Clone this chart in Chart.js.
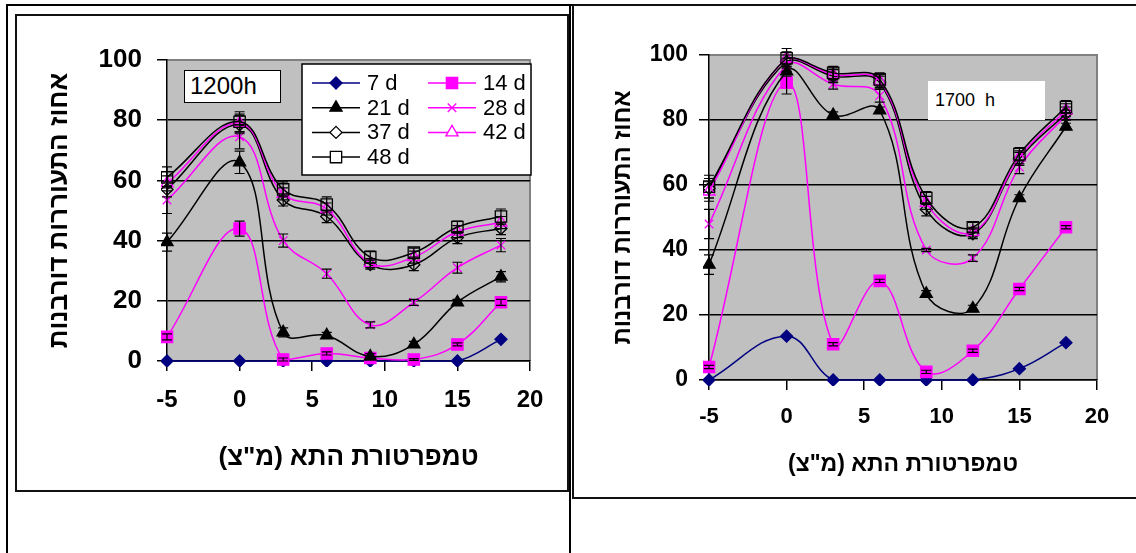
<!DOCTYPE html>
<html>
<head>
<meta charset="utf-8">
<script src="https://cdn.jsdelivr.net/npm/chart.js@4.4.1/dist/chart.umd.min.js"></script>
<style>
    body { margin: 0; width: 1136px; height: 553px; overflow: hidden; background: #fff; position: relative; font-family: Arial, "Liberation Sans", sans-serif; }
    .ln { position: absolute; background: #000; }
    .box { position: absolute; border: 2px solid #111; box-sizing: border-box; }
    canvas { position: absolute; }
    .note { position: absolute; background: #fff; color: #000; box-sizing: border-box; white-space: pre; }
</style>
</head>
<body>
<div class="ln" style="left:6px;top:4px;width:1130px;height:2px"></div>
<div class="ln" style="left:6px;top:4px;width:2px;height:549px"></div>
<div class="ln" style="left:569px;top:4px;width:2px;height:549px"></div>
<div class="box" style="left:15px;top:14px;width:554px;height:478px"></div>
<div class="box" style="left:572px;top:4px;width:600px;height:495px"></div>

<canvas id="chartNoon" width="550" height="474" style="left:17px;top:16px"></canvas>
<canvas id="chartEvening" width="562" height="491" style="left:574px;top:6px"></canvas>

<div class="note" style="left:184px;top:70px;width:97px;height:33px;border:1.5px solid #000;font-size:24px;line-height:30px;padding-left:5px">1200h</div>
<div class="note" style="left:928px;top:81px;width:117px;height:39px;font-size:18px;line-height:39px;padding-left:7px">1700  h</div>

<script>
// temperatures (x) and axis ticks
const temps = [-5, 0, 3, 6, 9, 12, 15, 18];
const xTicks = [-5, 0, 5, 10, 15, 20];
const yTicks = [0, 20, 40, 60, 80, 100];
const seriesNames = ['7 d', '14 d', '21 d', '28 d', '37 d', '42 d', '48 d'];

const xTitle = 'טמפרטורת התא (מ"צ)';
const yTitle = 'אחוז התעוררות דורבנות';

// 1200h
const noon7 = [0, 0, 0, 0, 0, 0, 0, 7.2];
const noon14 = [8, 44, 0.5, 2.5, 1, 0.5, 5.5, 19.5];
const noon21 = [39.5, 66, 9.5, 8.5, 1.5, 5.5, 19.5, 28];
const noon28 = [53.5, 74.5, 40, 29, 12, 19.5, 31, 38.5];
const noon37 = [57, 78.5, 53.5, 48, 32, 32, 41, 44];
const noon42 = [59, 79, 55.5, 50.5, 32.5, 34.5, 43, 46];
const noon48 = [61, 79.5, 57, 52, 34.5, 36, 44.5, 48];

const noonErr7 = [0, 0, 0, 0, 0, 0, 0, 0];
const noonErr14 = [1, 2.5, 0.5, 0.5, 0.3, 0.3, 0.5, 1];
const noonErr21 = [3, 3.7, 1.5, 1, 1, 1, 1, 1.7];
const noonErr28 = [4.5, 4, 2.2, 1.5, 1, 1, 1.8, 2.2];
const noonErr37 = [2.5, 3, 2, 2, 1.5, 2, 2, 2];
const noonErr42 = [2.5, 3, 2, 2, 1.5, 2, 2, 2];
const noonErr48 = [3.5, 3.3, 2.5, 2.5, 2, 1.5, 2, 2.5];

// 1700h
const eve7 = [0, 13.5, 0, 0, 0, 0, 3.5, 11.5];
const eve14 = [4, 91.5, 11, 30.5, 2.5, 9, 28, 47];
const eve21 = [35.5, 95, 81.5, 83, 26.5, 22, 56, 78];
const eve28 = [48, 97, 91, 87.5, 40, 37.5, 65.5, 81.5];
const eve37 = [59, 98, 93.5, 91.5, 52.5, 45, 68, 82];
const eve42 = [58, 99, 94, 92, 54.5, 45.5, 68.5, 83];
const eve48 = [59.5, 99, 94.5, 92.5, 56, 47, 69.5, 84];

const eveErr7 = [0, 0, 0, 0, 0, 0, 0, 0];
const eveErr14 = [0.5, 3.5, 0.5, 0.5, 0.5, 0.5, 0.5, 0.5];
const eveErr21 = [3, 1.5, 1, 1, 1, 1, 1, 1];
const eveErr28 = [4.5, 2, 1.5, 2, 0.5, 1, 2, 1.5];
const eveErr37 = [3, 2, 2, 2, 2, 1.5, 2, 2];
const eveErr42 = [3, 2, 2, 2, 2, 1.5, 2, 2];
const eveErr48 = [3.5, 3, 2, 2, 2, 1.5, 2, 2];

// series looks (excel style)
const lineColors = ['#000080', '#ff00ff', '#000000', '#ff00ff', '#000000', '#ff00ff', '#000000'];
const markerStyles = ['rectRot', 'rect', 'triangle', 'crossRot', 'rectRot', 'triangle', 'rect'];
const markerSizes = [6, 8, 7, 6, 6, 7, 8];
const markerFilled = [true, true, true, false, false, false, false];

const FONT = 'Arial, "Liberation Sans", sans-serif';
const rtl = (s) => '\u200F' + s + '\u200F';

function makeDatasets(values, errors) {
    return seriesNames.map((name, i) => ({
        label: name,
        data: temps.map((t, j) => ({ x: t, y: values[i][j] })),
        errors: errors[i],
        borderColor: lineColors[i],
        backgroundColor: lineColors[i],
        borderWidth: 1.5,
        pointStyle: markerStyles[i],
        pointRadius: markerSizes[i],
        pointHoverRadius: markerSizes[i],
        pointBackgroundColor: markerFilled[i] ? lineColors[i] : 'rgba(0,0,0,0)',
        pointBorderColor: lineColors[i],
        pointBorderWidth: 1.3,
        tension: 0.4,
        clip: 6,
        order: seriesNames.length - i
    }));
}

const plotFrame = {
    id: 'plotFrame',
    beforeDraw(chart) {
        const { ctx, chartArea: a } = chart;
        ctx.save();
        ctx.fillStyle = '#c0c0c0';
        ctx.fillRect(a.left, a.top, a.right - a.left, a.bottom - a.top);
        ctx.strokeStyle = '#808080';
        ctx.lineWidth = 2;
        ctx.beginPath();
        ctx.moveTo(a.left, a.top);
        ctx.lineTo(a.right, a.top);
        ctx.lineTo(a.right, a.bottom);
        ctx.stroke();
        ctx.restore();
    }
};

const errorBars = {
    id: 'errorBars',
    afterDatasetsDraw(chart) {
        const { ctx } = chart;
        const y = chart.scales.y;
        ctx.save();
        ctx.strokeStyle = '#000';
        ctx.lineWidth = 1.2;
        chart.data.datasets.forEach((ds, i) => {
            const meta = chart.getDatasetMeta(i);
            ds.data.forEach((p, j) => {
                const e = ds.errors[j];
                if (!e) return;
                const px = meta.data[j].x;
                const top = y.getPixelForValue(p.y + e);
                const bot = y.getPixelForValue(p.y - e);
                ctx.beginPath();
                ctx.moveTo(px, top); ctx.lineTo(px, bot);
                ctx.moveTo(px - 5, top); ctx.lineTo(px + 5, top);
                ctx.moveTo(px - 5, bot); ctx.lineTo(px + 5, bot);
                ctx.stroke();
            });
        });
        ctx.restore();
    }
};

// two column legend in a white box, like the excel one
const boxLegend = {
    id: 'boxLegend',
    afterDraw(chart, args, opts) {
        if (!opts.show) return;
        const ctx = chart.ctx;
        ctx.save();
        ctx.fillStyle = '#fff';
        ctx.strokeStyle = '#000';
        ctx.lineWidth = 1.5;
        ctx.fillRect(opts.x, opts.y, opts.w, opts.h);
        ctx.strokeRect(opts.x, opts.y, opts.w, opts.h);
        ctx.font = '22px ' + FONT;
        ctx.textBaseline = 'middle';
        ctx.textAlign = 'left';
        chart.data.datasets.forEach((ds, i) => {
            const col = i % 2;
            const row = Math.floor(i / 2);
            const x0 = opts.x + 10 + col * 116;
            const y0 = opts.y + 19 + row * 24.7;
            ctx.strokeStyle = ds.borderColor;
            ctx.lineWidth = ds.borderWidth;
            ctx.beginPath();
            ctx.moveTo(x0, y0);
            ctx.lineTo(x0 + 48, y0);
            ctx.stroke();
            ctx.fillStyle = ds.pointBackgroundColor === 'rgba(0,0,0,0)' ? '#fff' : ds.pointBackgroundColor;
            ctx.strokeStyle = ds.pointBorderColor;
            ctx.lineWidth = ds.pointBorderWidth;
            if (Chart.helpers && Chart.helpers.drawPoint) {
                Chart.helpers.drawPoint(ctx, {
                    pointStyle: ds.pointStyle,
                    radius: ds.pointRadius,
                    rotation: 0,
                    borderWidth: ds.pointBorderWidth
                }, x0 + 24, y0);
            }
            ctx.fillStyle = '#000';
            ctx.fillText(ds.label, x0 + 55, y0 + 1);
        });
        ctx.restore();
    }
};

function drawChart(id, values, errors, geo) {
    const ctx = document.getElementById(id).getContext('2d');
    return new Chart(ctx, {
        type: 'line',
        data: { datasets: makeDatasets(values, errors) },
        plugins: [plotFrame, errorBars, boxLegend],
        options: {
            responsive: false,
            animation: false,
            devicePixelRatio: 1,
            layout: { padding: { left: 10, top: geo.top, right: geo.right, bottom: 0 } },
            plugins: {
                legend: { display: false },
                tooltip: { enabled: false },
                boxLegend: geo.legend
            },
            scales: {
                x: {
                    type: 'linear',
                    min: -5,
                    max: 20,
                    afterBuildTicks: (s) => { s.ticks = xTicks.map(v => ({ value: v })); },
                    afterFit: (s) => { s.height = geo.xHeight; },
                    grid: { drawOnChartArea: false, tickLength: 10, color: '#000', lineWidth: 1.5 },
                    border: { color: '#000', width: 1.5 },
                    ticks: { color: '#000', padding: geo.xPad, maxRotation: 0, autoSkip: false, font: { family: FONT, size: geo.xFont, weight: 'bold' } },
                    title: { display: true, text: rtl(xTitle), color: '#000', padding: { top: 0, bottom: geo.xTitlePad }, font: { family: FONT, size: geo.titleFont, weight: 'bold' } }
                },
                y: {
                    min: 0,
                    max: 100,
                    afterBuildTicks: (s) => { s.ticks = yTicks.map(v => ({ value: v })); },
                    afterFit: (s) => { s.width = geo.yWidth; },
                    grid: {
                        color: (c) => (c.tick && c.tick.value === 100 ? '#808080' : '#000'),
                        tickColor: '#000',
                        lineWidth: 1.5,
                        tickLength: 10
                    },
                    border: { color: '#000', width: 1.5 },
                    ticks: { color: '#000', padding: geo.yPad, font: { family: FONT, size: geo.yFont, weight: 'bold' } },
                    title: { display: true, text: rtl(yTitle), color: '#000', padding: { top: geo.yTitlePad, bottom: 0 }, font: { family: FONT, size: geo.yTitleFont, weight: 'bold' } }
                }
            }
        }
    });
}

drawChart('chartNoon',
    [noon7, noon14, noon21, noon28, noon37, noon42, noon48],
    [noonErr7, noonErr14, noonErr21, noonErr28, noonErr37, noonErr42, noonErr48],
    {
        top: 44, right: 37, yWidth: 140, xHeight: 129,
        xFont: 24, yFont: 26, titleFont: 26, yTitleFont: 26,
        xPad: 15, yPad: 15, xTitlePad: 17, yTitlePad: 17,
        legend: { show: true, x: 285, y: 48, w: 229, h: 111 }
    });

drawChart('chartEvening',
    [eve7, eve14, eve21, eve28, eve37, eve42, eve48],
    [eveErr7, eveErr14, eveErr21, eveErr28, eveErr37, eveErr42, eveErr48],
    {
        top: 49, right: 39, yWidth: 125, xHeight: 117,
        xFont: 22, yFont: 23, titleFont: 23, yTitleFont: 24,
        xPad: 14, yPad: 11, xTitlePad: 19, yTitlePad: 25,
        legend: { show: false }
    });
</script>
</body>
</html>
